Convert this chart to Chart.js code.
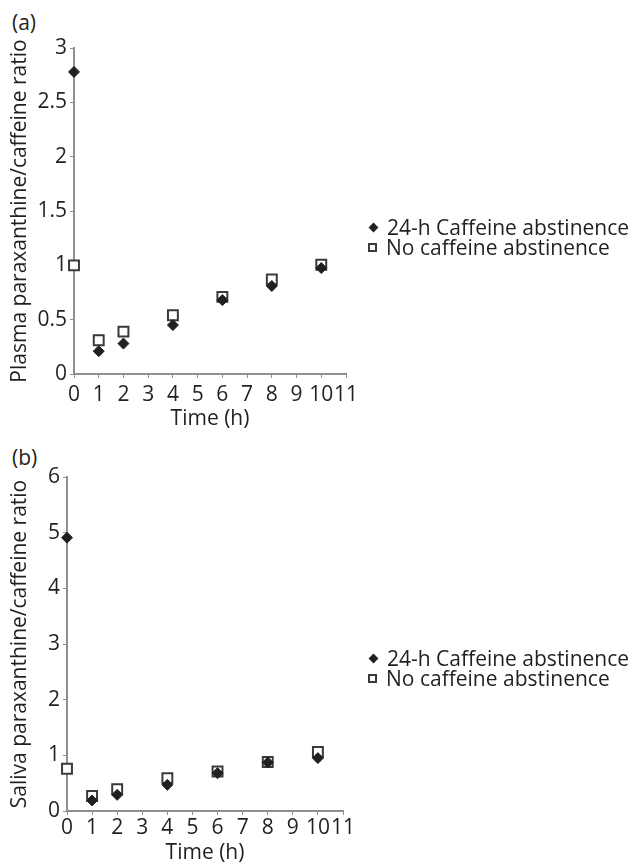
<!DOCTYPE html>
<html>
<head>
<meta charset="utf-8">
<script src="https://cdn.jsdelivr.net/npm/chart.js@4.4.0/dist/chart.umd.min.js"></script>
<style>
  body { margin: 0; background: #fff; }
  #page { position: relative; width: 634px; height: 866px; overflow: hidden;
          font-family: "Open Sans", sans-serif; color: #231f20; }
  .cv { position: absolute; left: 0; }
  .tag { position: absolute; left: 12px; font-size: 21px; line-height: 24px; }
  .legend { position: absolute; left: 368px; font-size: 21px; line-height: 20px; white-space: nowrap; }
  .legend div { height: 20px; }
  .mk { display: inline-block; width: 10px; height: 10px; margin-right: 9px; vertical-align: middle; position: relative; top: -2px; }
  .dia::before { content: ""; position: absolute; left: 1.5px; top: 1.5px; width: 7px; height: 7px; background: #231f20; transform: rotate(45deg); }
  .sq { box-sizing: border-box; border: 2px solid #3a3a3a; background: #fff; width: 9px; height: 9px; }
</style>
</head>
<body>
<div id="page">
  <div class="tag" style="top:10px">(a)</div>
  <canvas id="chartA" class="cv" style="top:0"></canvas>
  <div class="legend" style="top:217px">
    <div><span class="mk dia"></span>24-h Caffeine abstinence</div>
    <div><span class="mk sq"></span>No caffeine abstinence</div>
  </div>

  <div class="tag" style="top:445px">(b)</div>
  <canvas id="chartB" class="cv" style="top:432px"></canvas>
  <div class="legend" style="top:648px">
    <div><span class="mk dia"></span>24-h Caffeine abstinence</div>
    <div><span class="mk sq"></span>No caffeine abstinence</div>
  </div>
</div>
<script>
// time points (h)
const hours = [0, 1, 2, 4, 6, 8, 10];

// (a) plasma paraxanthine/caffeine ratio
const plasmaAbstinence   = [2.78, 0.21, 0.28, 0.45, 0.68, 0.81, 0.975];
const plasmaNoAbstinence = [1.00, 0.31, 0.39, 0.54, 0.71, 0.87, 1.005];

// (b) saliva paraxanthine/caffeine ratio
const salivaAbstinence   = [4.91, 0.19, 0.29, 0.47, 0.68, 0.87, 0.95];
const salivaNoAbstinence = [0.76, 0.27, 0.39, 0.59, 0.71, 0.88, 1.06];

const seriesNames = ['24-h Caffeine abstinence', 'No caffeine abstinence'];

const ink = '#231f20';
const axisGrey = '#8f8f8f';
const fontFamily = '"Open Sans", sans-serif';
const fontSize = 21;

function toPoints(ys) {
  return hours.map(function (h, i) { return { x: h, y: ys[i] }; });
}

function makePanel(id, w, h, area, yTitle, yMax, yStep, abst, noAbst, xTickPad, xTitlePad) {
  const cv = document.getElementById(id);
  cv.width = w; cv.height = h;
  cv.style.width = w + 'px'; cv.style.height = h + 'px';

  return new Chart(cv, {
    type: 'scatter',
    data: {
      datasets: [{
        label: seriesNames[0],
        data: toPoints(abst),
        pointStyle: 'rectRot',
        pointRadius: 5.5,
        pointHoverRadius: 5.5,
        backgroundColor: ink,
        borderColor: ink,
        borderWidth: 1,
        clip: false
      }, {
        label: seriesNames[1],
        data: toPoints(noAbst),
        pointStyle: 'rect',
        pointRadius: 7,
        pointHoverRadius: 7,
        backgroundColor: '#ffffff',
        borderColor: '#3a3a3a',
        borderWidth: 2,
        clip: false
      }]
    },
    options: {
      responsive: false,
      animation: false,
      events: [],
      layout: { padding: { left: 0, top: area.top, right: w - area.right, bottom: 0 } },
      plugins: { legend: { display: false }, title: { display: false }, tooltip: { enabled: false } },
      scales: {
        x: {
          type: 'linear',
          min: 0, max: 11,
          afterFit: function (s) { s.height = h - area.bottom; },
          ticks: { stepSize: 1, autoSkip: false, maxRotation: 0, padding: xTickPad,
                   color: ink, font: { family: fontFamily, size: fontSize } },
          grid: { drawOnChartArea: false, drawTicks: true, tickLength: 4, color: axisGrey, lineWidth: 1 },
          border: { display: true, color: axisGrey, width: 2 },
          title: { display: true, text: 'Time (h)', color: ink,
                   font: { family: fontFamily, size: fontSize }, padding: { top: 0, bottom: xTitlePad } }
        },
        y: {
          type: 'linear',
          min: 0, max: yMax,
          afterFit: function (s) { s.width = area.left; },
          ticks: { stepSize: yStep, padding: 3, color: ink, font: { family: fontFamily, size: fontSize },
                   callback: function (v) { return String(Math.round(v * 10) / 10); } },
          grid: { drawOnChartArea: false, drawTicks: true, tickLength: 4, color: axisGrey, lineWidth: 1 },
          border: { display: true, color: axisGrey, width: 2 },
          title: { display: true, text: yTitle, color: ink,
                   font: { family: fontFamily, size: fontSize }, padding: { top: 7, bottom: 0 } }
        }
      }
    }
  });
}

makePanel('chartA', 634, 432, { left: 74, top: 48, right: 346, bottom: 374 },
  'Plasma paraxanthine/caffeine ratio', 3, 0.5, plasmaAbstinence, plasmaNoAbstinence, 4, 0);

makePanel('chartB', 634, 434, { left: 67, top: 45, right: 343, bottom: 379 },
  'Saliva paraxanthine/caffeine ratio', 6, 1, salivaAbstinence, salivaNoAbstinence, 0, 0);
</script>
</body>
</html>
